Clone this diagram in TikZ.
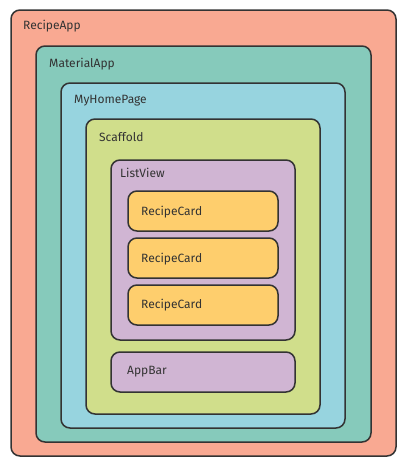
\documentclass[tikz,border=0pt]{standalone}
\usepackage{fontspec}
\setmainfont{Fira Sans}
\definecolor{cRecipe}{HTML}{F9A992}
\definecolor{cMaterial}{HTML}{86CABB}
\definecolor{cHome}{HTML}{97D4DF}
\definecolor{cScaffold}{HTML}{D0DE8B}
\definecolor{cList}{HTML}{D0B5D3}
\definecolor{cCard}{HTML}{FECE6D}
\definecolor{cLine}{HTML}{333333}
\begin{document}
\begin{tikzpicture}[x=1pt,y=-1pt,
  wbox/.style={draw=cLine,line width=1.5pt,rounded corners=9pt},
  lbl/.style={anchor=west,inner sep=0pt,text=cLine,font=\fontsize{12}{14}\selectfont}]
\useasboundingbox (0,0) rectangle (404,467);
\draw[wbox,fill=cRecipe] (11,10) rectangle (396,456);
\node[lbl] (lRecipe) at (23,26) {RecipeApp};
\draw[wbox,fill=cMaterial] (36,46) rectangle (371,442);
\node[lbl] (lMaterial) at (49,64) {MaterialApp};
\draw[wbox,fill=cHome] (61,83) rectangle (345,428);
\node[lbl] (lHome) at (74,101) {MyHomePage};
\draw[wbox,fill=cScaffold] (86,119) rectangle (320,414);
\node[lbl] (lScaffold) at (99,137) {Scaffold};
\draw[wbox,fill=cList] (111,160) rectangle (295,340);
\node[lbl] (lList) at (120,173) {ListView};
\draw[wbox,fill=cCard] (128,191) rectangle (278,231);
\node[lbl] (lCard1) at (141,212) {RecipeCard};
\draw[wbox,fill=cCard] (128,238) rectangle (278,278);
\node[lbl] (lCard2) at (141,259) {RecipeCard};
\draw[wbox,fill=cCard] (128,285) rectangle (278,325);
\node[lbl] (lCard3) at (141,305) {RecipeCard};
\draw[wbox,fill=cList] (111,352) rectangle (295,392);
\node[lbl] (lAppBar) at (127,372) {AppBar};
\end{tikzpicture}
\end{document}
